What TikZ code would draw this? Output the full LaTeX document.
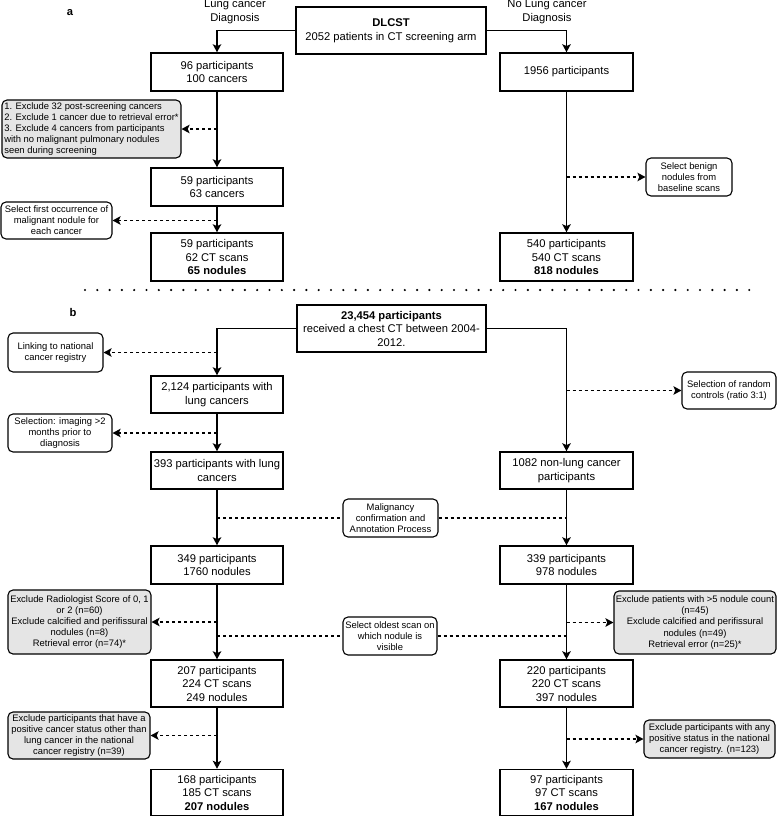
\documentclass[tikz,border=0pt]{standalone}
\usepackage{fontspec}
\setmainfont{Liberation Sans}
\usetikzlibrary{arrows.meta}
\begin{document}
\begin{tikzpicture}[x=1pt,y=-1pt,
  box/.style={draw, line width=1.5pt, fill=white, align=center, inner sep=0pt, font=\fontsize{11.2}{13.5}\selectfont},
  side/.style={draw, line width=1.1pt, rounded corners=5pt, fill=white, align=center, inner sep=1pt, font=\fontsize{9.4}{11.1}\selectfont},
  gside/.style={side, fill=black!10},
  lbl/.style={align=center, inner sep=0pt, font=\fontsize{11.2}{14}\selectfont},
  arr/.style={line width=1.3pt, -{Stealth[length=8pt,width=8.5pt,inset=1.8pt]}},
  darr/.style={arr, dash pattern=on 3pt off 3pt},
  dline/.style={line width=1.3pt, dash pattern=on 3pt off 3pt},
]
\useasboundingbox (0,0) rectangle (777,817);

% ---------- section a ----------
\node[font=\fontsize{11.2}{13}\selectfont\bfseries, inner sep=0pt] (la) at (70,13) {a};
\node[lbl] (lcd) at (235,12) {Lung cancer\\Diagnosis};
\node[lbl] (nlcd) at (547,12) {No Lung cancer\\Diagnosis};

\node[box, minimum width=190pt, minimum height=47pt] (dlcst) at (391,30.5) {\textbf{DLCST}\\2052 patients in CT screening arm};
\node[box, minimum width=132pt, minimum height=38pt] (b96) at (217,72) {96 participants\\100 cancers};
\node[box, minimum width=133pt, minimum height=38pt] (b1956) at (566.5,72) {1956 participants};
\node[gside, minimum width=179pt, minimum height=58pt, align=left] (exa) at (91.5,129) {1. Exclude 32 post-screening cancers\\2. Exclude 1 cancer due to retrieval error*\\3. Exclude 4 cancers from participants\\with no malignant pulmonary nodules\\seen during screening};
\node[box, minimum width=132pt, minimum height=38pt] (b59a) at (217,187) {59 participants\\63 cancers};
\node[side, minimum width=111pt, minimum height=37pt] (firstocc) at (56.5,220.5) {Select first occurrence of\\malignant nodule for\\each cancer};
\node[box, minimum width=132pt, minimum height=48pt] (b59b) at (217,257) {59 participants\\62 CT scans\\\textbf{65 nodules}};
\node[side, minimum width=86pt, minimum height=38pt] (benign) at (689,177) {Select benign\\nodules from\\baseline scans};
\node[box, minimum width=133pt, minimum height=48pt] (b540) at (566.5,257) {540 participants\\540 CT scans\\\textbf{818 nodules}};

\draw[arr] (dlcst.west) -| (b96.north);
\draw[arr] (dlcst.east) -| (b1956.north);
\draw[arr] (b96.south) -- (b59a.north);
\draw[darr] (b96.south |- exa.east) -- (exa.east);
\draw[arr] (b59a.south) -- (b59b.north);
\draw[darr] (b59a.south |- firstocc.east) -- (firstocc.east);
\draw[arr] (b1956.south) -- (b540.north);
\draw[darr] (b1956.south |- benign.west) -- (benign.west);

% separator
\draw[line width=2.4pt, line cap=round, dash pattern=on 0pt off 12.3pt] (85,290) -- (752,290);

% ---------- section b ----------
\node[font=\fontsize{11.2}{13}\selectfont\bfseries, inner sep=0pt] (lb) at (73,312) {b};
\node[box, minimum width=189pt, minimum height=47pt] (b23454) at (391.5,328.5) {\textbf{23,454 participants}\\received a chest CT between 2004-\\2012.};
\node[side, minimum width=95pt, minimum height=39pt] (link) at (55.5,352.5) {Linking to national\\cancer registry};
\node[box, minimum width=132pt, minimum height=37pt] (b2124) at (217,394.5) {2,124 participants with\\lung cancers};
\node[side, minimum width=104pt, minimum height=38pt] (sel) at (60,433) {Selection: imaging >2\\months prior to\\diagnosis};
\node[box, minimum width=132pt, minimum height=37pt] (b393) at (217,470.5) {393 participants with lung\\cancers};
\node[side, minimum width=94pt, minimum height=37pt] (random) at (729,390.5) {Selection of random\\controls (ratio 3:1)};
\node[box, minimum width=133pt, minimum height=37pt] (b1082) at (566.5,470.5) {1082 non-lung cancer\\participants};
\node[side, minimum width=95pt, minimum height=38pt] (mal) at (390.5,518) {Malignancy\\confirmation and\\Annotation Process};
\node[box, minimum width=132pt, minimum height=38pt] (b349) at (217,565) {349 participants\\1760 nodules};
\node[box, minimum width=133pt, minimum height=38pt] (b339) at (566.5,565) {339 participants\\978 nodules};
\node[gside, minimum width=143pt, minimum height=64pt] (exrad) at (79.5,622) {Exclude Radiologist Score of 0, 1\\or 2 (n=60)\\Exclude calcified and perifissural\\nodules (n=8)\\Retrieval error (n=74)*};
\node[side, minimum width=94pt, minimum height=38pt] (oldest) at (390,636) {Select oldest scan on\\which nodule is\\visible};
\node[gside, minimum width=162pt, minimum height=63pt] (exright) at (695,622.5) {Exclude patients with >5 nodule count\\(n=45)\\Exclude calcified and perifissural\\nodules (n=49)\\Retrieval error (n=25)*};
\node[box, minimum width=132pt, minimum height=47pt] (b207) at (217,683.5) {207 participants\\224 CT scans\\249 nodules};
\node[box, minimum width=133pt, minimum height=47pt] (b220) at (566.5,683.5) {220 participants\\220 CT scans\\397 nodules};
\node[gside, minimum width=142pt, minimum height=47pt] (expart) at (79,735.5) {Exclude participants that have a\\positive cancer status other than\\lung cancer in the national\\cancer registry (n=39)};
\node[gside, minimum width=131pt, minimum height=38pt] (exany) at (709.5,739) {Exclude participants with any\\positive status in the national\\cancer registry. (n=123)};
\node[box, minimum width=132pt, minimum height=46pt] (b168) at (217,792.5) {168 participants\\185 CT scans\\\textbf{207 nodules}};
\node[box, minimum width=133pt, minimum height=46pt] (b97) at (566.5,792.5) {97 participants\\97 CT scans\\\textbf{167 nodules}};

\draw[arr] (b23454.west) -| (b2124.north);
\draw[arr] (b23454.east) -| (b1082.north);
\draw[darr] (b2124.north |- link.east) -- (link.east);
\draw[darr] (b1082.north |- random.west) -- (random.west);
\draw[arr] (b2124.south) -- (b393.north);
\draw[darr] (b2124.south |- sel.east) -- (sel.east);
\draw[arr] (b393.south) -- (b349.north);
\draw[arr] (b1082.south) -- (b339.north);
\draw[dline] (b393.south |- mal.west) -- (mal.west);
\draw[dline] (mal.east) -- (b1082.south |- mal.east);
\draw[arr] (b349.south) -- (b207.north);
\draw[arr] (b339.south) -- (b220.north);
\draw[darr] (b349.south |- exrad.east) -- (exrad.east);
\draw[darr] (b339.south |- exright.west) -- (exright.west);
\draw[dline] (b349.south |- oldest.west) -- (oldest.west);
\draw[dline] (oldest.east) -- (b339.south |- oldest.east);
\draw[arr] (b207.south) -- (b168.north);
\draw[arr] (b220.south) -- (b97.north);
\draw[darr] (b207.south |- expart.east) -- (expart.east);
\draw[darr] (b220.south |- exany.west) -- (exany.west);
\end{tikzpicture}
\end{document}
